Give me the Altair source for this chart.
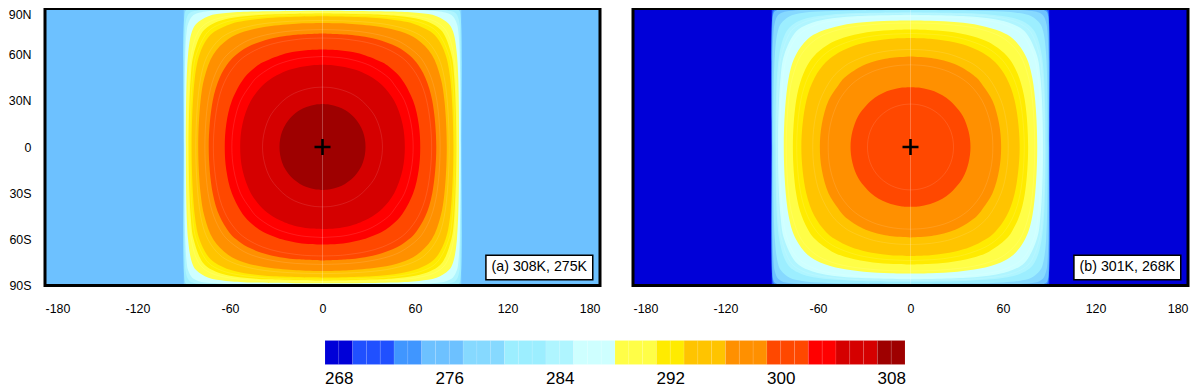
import altair as alt
import pandas as pd

FONT = "Liberation Sans"

# contour outlines, one quadrant each: latitude and half-width in longitude
LAT_R28 = [0, 5, 10, 15, 20, 24, 26, 27, 27.6, 27.9]
LON_R28 = [27.9, 27.5, 26.2, 23.8, 19.8, 14.6, 10.4, 7.2, 4.2, 0]
LAT_R39 = [0, 10, 20, 27, 32, 35, 37, 38, 38.6, 38.9]
LON_R39 = [38.9, 37.7, 34.0, 28.7, 23.2, 18.1, 12.8, 8.8, 5.4, 0]
LAT_R53 = [0, 15, 30, 40, 45, 48, 50, 52, 53, 53.4]
LON_R53 = [53.4, 51.9, 46.5, 38.9, 32.5, 26.9, 22.0, 14.4, 7.7, 0]
LAT_R59 = [0, 15, 30, 40, 45, 52, 55, 57, 58, 58.8]
LON_R59 = [58.8, 57.5, 53.2, 46.9, 42.9, 32.7, 25.4, 17.9, 12.0, 0]
LAT_R63 = [0, 15, 30, 45, 52, 55, 60, 62, 63, 63.4]
LON_R63 = [63.4, 62.4, 58.8, 50.7, 43.4, 38.7, 26.4, 17.4, 9.3, 0]
LAT_R71 = [0, 30, 45, 55, 60, 65, 68, 70, 70.5, 70.8]
LON_R71 = [70.8, 67.6, 62.2, 55.0, 48.8, 38.8, 28.4, 15.6, 10.0, 0]
LAT_R74 = [0, 30, 45, 55, 60, 65, 70, 72, 73, 73.8]
LON_R74 = [73.8, 71.2, 66.7, 60.8, 56.0, 48.6, 35.1, 25.2, 16.9, 0]
LAT_R76 = [0, 30, 45, 55, 60, 68, 72, 75, 76, 76.3]
LON_R76 = [76.3, 74.2, 70.5, 65.7, 61.8, 50.9, 40.2, 24.3, 11.0, 0]
LAT_R81 = [0, 30, 45, 60, 70, 75, 78, 80, 80.4, 80.6]
LON_R81 = [80.6, 79.1, 76.6, 70.9, 61.3, 50.7, 37.9, 19.2, 11.0, 0]
LAT_R82 = [0, 45, 60, 70, 75, 79, 81, 82, 82.2]
LON_R82 = [82.2, 79.0, 74.3, 66.8, 58.6, 45.0, 30.4, 13.0, 0]
LAT_R85 = [0, 45, 60, 70, 75, 80, 82, 84, 84.9]
LON_R85 = [84.9, 82.8, 79.8, 75.0, 70.0, 59.4, 50.5, 32.1, 0]
LAT_R86 = [0, 45, 60, 75, 80, 83, 85, 86]
LON_R86 = [86.0, 84.3, 81.9, 74.2, 66.1, 54.8, 36.2, 0]
LAT_R87 = [0, 45, 60, 75, 80, 83, 85, 86, 86.8]
LON_R87 = [86.8, 85.5, 83.6, 77.7, 71.4, 63.0, 50.6, 37.6, 0]
LAT_R88 = [0, 60, 75, 80, 83, 85, 86, 87, 87.6]
LON_R88 = [87.6, 85.1, 80.5, 75.8, 69.5, 60.7, 52.3, 35.3, 0]
LAT_R89A = [0, 60, 75, 80, 85, 87, 88, 88.6]
LON_R89A = [88.6, 87.2, 84.7, 82.0, 74.0, 62.6, 46.3, 0]
LAT_R89B = [0, 60, 75, 80, 85, 87, 88, 88.7, 89]
LON_R89B = [89.0, 88.0, 86.1, 84.2, 78.4, 70.5, 60.0, 39.6, 0]
LAT_R90A = [0, 60, 75, 80, 85, 87, 88, 89, 89.5]
LON_R90A = [89.5, 89.0, 88.1, 87.2, 84.5, 80.7, 76.0, 61.1, 0]
LAT_R90B = [0, 60, 75, 80, 85, 87, 88, 89, 89.5, 89.7]
LON_R90B = [89.7, 89.4, 88.8, 88.2, 86.4, 83.9, 80.9, 71.5, 50.7, 0]
LAT_R90C = [0, 75, 80, 85, 87, 88, 89, 89.5, 89.8]
LON_R90C = [89.8, 89.2, 88.9, 87.7, 86.2, 84.3, 78.6, 66.7, 0]
LAT_R90D = [0, 80, 85, 87, 88, 89, 89.5, 89.9]
LON_R90D = [89.9, 89.6, 89.3, 88.8, 88.2, 86.4, 82.8, 52.0]
LAT_R90E = [0, 88, 89, 89.5, 90]
LON_R90E = [90, 89.1, 88.3, 86.5, 80]
LAT_EDGE = [0, 90]
LON_EDGE = [90, 90]

# colour bands
BOX_COLORS = ["#0000D8", "#2050FF", "#4096FF", "#6DC1FF", "#86D9FF", "#9CEEFF", "#AFF5FF", "#CEFFFF",
              "#FFFE47", "#FFEB00", "#FFC400", "#FF9000", "#FF4800", "#FF0000", "#D50000", "#9E0000"]
BOX_COUNTS = [2, 3, 2, 3, 3, 3, 2, 3, 3, 2, 3, 3, 3, 2, 3, 2]
BAR_TICKS = [268, 276, 284, 292, 300, 308]
BAR_START = 267

# bands of each panel: colour index, outline
BANDS_A = [(4, LAT_EDGE, LON_EDGE), (5, LAT_R90E, LON_R90E), (6, LAT_R90C, LON_R90C), (7, LAT_R90A, LON_R90A),
           (8, LAT_R89A, LON_R89A), (9, LAT_R87, LON_R87), (10, LAT_R85, LON_R85), (11, LAT_R81, LON_R81),
           (12, LAT_R74, LON_R74), (13, LAT_R63, LON_R63), (14, LAT_R53, LON_R53), (15, LAT_R28, LON_R28)]
BANDS_B = [(1, LAT_EDGE, LON_EDGE), (2, LAT_R90E, LON_R90E), (3, LAT_R90D, LON_R90D), (4, LAT_R90B, LON_R90B),
           (5, LAT_R89B, LON_R89B), (6, LAT_R88, LON_R88), (7, LAT_R86, LON_R86), (8, LAT_R82, LON_R82),
           (9, LAT_R76, LON_R76), (10, LAT_R71, LON_R71), (11, LAT_R59, LON_R59), (12, LAT_R39, LON_R39)]
# faint intermediate contour lines
RINGS_A = [(LAT_R39, LON_R39), (LAT_R59, LON_R59), (LAT_R71, LON_R71), (LAT_R76, LON_R76),
           (LAT_R82, LON_R82), (LAT_R86, LON_R86), (LAT_R88, LON_R88)]
RINGS_B = [(LAT_R28, LON_R28), (LAT_R53, LON_R53), (LAT_R63, LON_R63), (LAT_R74, LON_R74),
           (LAT_R81, LON_R81), (LAT_R85, LON_R85), (LAT_R87, LON_R87)]

X_TICKS = [-180, -120, -60, 0, 60, 120, 180]
Y_TICKS = [-90, -60, -30, 0, 30, 60, 90]
LABEL_A = "(a) 308K, 275K"
LABEL_B = "(b) 301K, 268K"
MARK_LON, MARK_LAT = [0], [0]
BOX_LON = [106, 175.3]
BOX_LAT = [-70.3, -86.3]

PANEL_W, PANEL_H = 555, 277

xs = alt.Scale(domain=[-180, 180], nice=False, zero=False)
ys = alt.Scale(domain=[-90, 90], nice=False, zero=False)


def outline(lat, lon):
    lats = [-v for v in reversed(lat[1:])] + list(lat)
    lons = list(reversed(lon[1:])) + list(lon)
    return pd.DataFrame({"lat": lats, "lo": [-v for v in lons], "hi": lons})


def panel(bg_index, bands, rings, label, show_y):
    x_axis = alt.Axis(values=X_TICKS, title=None, ticks=False, domain=False, grid=False, labelFont=FONT,
                      labelFontSize=12.4, labelPadding=17, labelOverlap=False, labelColor="black",
                      labelExpr="'' + datum.value")
    y_axis = None
    if show_y:
        y_axis = alt.Axis(values=Y_TICKS, title=None, ticks=False, domain=False, grid=False, labelFont=FONT,
                          labelFontSize=12.4, labelPadding=14, labelOverlap=False, labelColor="black",
                          labelBaseline={"expr": "datum.value == 90 ? 'top' : 'middle'"},
                          labelExpr="datum.value == 0 ? '0' : abs(datum.value) + (datum.value > 0 ? 'N' : 'S')")
    frame_df = pd.DataFrame({"x0": [X_TICKS[0]], "x1": [X_TICKS[-1]], "y0": [Y_TICKS[0]], "y1": [Y_TICKS[-1]]})
    frame_enc = dict(x=alt.X("x0:Q", scale=xs, axis=x_axis), x2="x1:Q",
                     y=alt.Y("y0:Q", scale=ys, axis=y_axis), y2="y1:Q")
    layers = [alt.Chart(frame_df).mark_rect(color=BOX_COLORS[bg_index]).encode(**frame_enc)]
    for idx, lat, lon in bands:
        layers.append(alt.Chart(outline(lat, lon)).mark_area(orient="horizontal", interpolate="catmull-rom",
                                                             color=BOX_COLORS[idx]).encode(
            y=alt.Y("lat:Q", scale=ys), x=alt.X("lo:Q", scale=xs), x2="hi:Q"))
    for lat, lon in rings:
        layers.append(alt.Chart(outline(lat, lon)).mark_area(orient="horizontal", interpolate="catmull-rom",
                                                             fillOpacity=0, stroke="white", strokeOpacity=0.16,
                                                             strokeWidth=0.7).encode(
            y=alt.Y("lat:Q", scale=ys), x=alt.X("lo:Q", scale=xs), x2="hi:Q"))
    meridian = pd.DataFrame({"lon": MARK_LON, "y0": [Y_TICKS[0]], "y1": [Y_TICKS[-1]]})
    layers.append(alt.Chart(meridian).mark_rule(color="white", opacity=0.25, strokeWidth=1).encode(
        x=alt.X("lon:Q", scale=xs), y=alt.Y("y0:Q", scale=ys), y2="y1:Q"))
    mark = pd.DataFrame({"lon": MARK_LON, "lat": MARK_LAT})
    layers.append(alt.Chart(mark).mark_point(shape="M-1,0L1,0M0,-1L0,1", size=256, filled=False, color="black",
                                             strokeWidth=2.6, opacity=1).encode(
        x=alt.X("lon:Q", scale=xs), y=alt.Y("lat:Q", scale=ys)))
    box = pd.DataFrame({"x0": [BOX_LON[0]], "x1": [BOX_LON[1]], "y0": [BOX_LAT[0]], "y1": [BOX_LAT[1]],
                        "xc": [sum(BOX_LON) / 2], "yc": [sum(BOX_LAT) / 2], "t": [label]})
    layers.append(alt.Chart(box).mark_rect(fill="white", stroke="black", strokeWidth=1.5).encode(
        x=alt.X("x0:Q", scale=xs), x2="x1:Q", y=alt.Y("y0:Q", scale=ys), y2="y1:Q"))
    layers.append(alt.Chart(box).mark_text(font=FONT, fontSize=14.2, color="black").encode(
        x=alt.X("xc:Q", scale=xs), y=alt.Y("yc:Q", scale=ys), text="t:N"))
    layers.append(alt.Chart(frame_df).mark_rect(filled=False, fillOpacity=0, stroke="black", strokeWidth=3).encode(
        x=alt.X("x0:Q", scale=xs), x2="x1:Q", y=alt.Y("y0:Q", scale=ys), y2="y1:Q"))
    return alt.layer(*layers).properties(width=PANEL_W, height=PANEL_H)


# colour bar
rows, v = [], BAR_START
for color, count in zip(BOX_COLORS, BOX_COUNTS):
    for _ in range(count):
        rows.append({"lo": v, "hi": v + 1, "c": color})
        v += 1
bar_df = pd.DataFrame(rows)
bar = alt.Chart(bar_df).mark_rect(stroke="white", strokeWidth=0.6, strokeOpacity=0.15).encode(
    x=alt.X("lo:Q",
            scale=alt.Scale(domain=[BAR_START, v], range=[280, 860], nice=False, zero=False),
            axis=alt.Axis(values=BAR_TICKS, title=None, ticks=False, domain=False, grid=False, labelFont=FONT,
                          labelFontSize=17, labelPadding=6, labelOverlap=False, labelColor="black", format="d")),
    x2="hi:Q",
    color=alt.Color("c:N", scale=None),
).properties(width=1143, height=24)

top = alt.hconcat(panel(3, BANDS_A, RINGS_A, LABEL_A, True), panel(0, BANDS_B, RINGS_B, LABEL_B, False),
                  spacing=33, bounds="flush")
chart = alt.vconcat(top, bar, spacing=24, bounds="full").properties(
    padding={"left": 0, "top": -1.5, "right": 0, "bottom": 0},
    background="white",
).configure_view(stroke=None)

chart.save("out.html", embed_options={"renderer": "svg", "actions": False})
